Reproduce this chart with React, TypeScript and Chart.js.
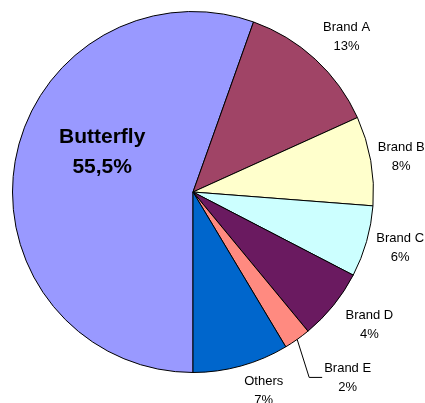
import React, { useEffect, useRef } from "react";
import { Chart, registerables } from "chart.js";

Chart.register(...registerables);

const categories = ["Butterfly", "Brand A", "Brand B", "Brand C", "Brand D", "Brand E", "Others"];
const shares = [55.5, 12.8, 8.0, 6.4, 6.4, 2.4, 8.6];
const shareLabels = ["55,5%", "13%", "8%", "6%", "4%", "2%", "7%"];
const sliceColors = ["#9999FF", "#A04466", "#FFFFCC", "#CCFFFF", "#6A1A60", "#FF8A80", "#0066CC"];

// layout nudges for label blocks (pixels), by slice index
const labelNudges: Record<number, [number, number]> = {
  0: [7, -23],
  1: [7, 4],
  2: [-5, 2],
  3: [-1, -3],
  4: [8, -3],
  6: [13, -10],
};

const labelPlugin = {
  id: "sliceLabels",
  afterDatasetsDraw(chart: any) {
    const ctx = chart.ctx as CanvasRenderingContext2D;
    const meta = chart.getDatasetMeta(0);
    ctx.save();
    ctx.fillStyle = "#000";
    ctx.textAlign = "center";
    ctx.textBaseline = "middle";
    meta.data.forEach((arc: any, i: number) => {
      const { x, y, startAngle, endAngle, outerRadius } = arc.getProps(
        ["x", "y", "startAngle", "endAngle", "outerRadius"],
        true
      );
      const mid = (startAngle + endAngle) / 2;
      const cx = Math.cos(mid);
      const cy = Math.sin(mid);
      const name = categories[i];
      const pct = shareLabels[i];
      if (i === 0) {
        const d = outerRadius * 0.55;
        const n = labelNudges[0];
        const px = x + cx * d + n[0];
        const py = y + cy * d + n[1];
        ctx.font = "bold 21px 'Liberation Sans', Arial, sans-serif";
        ctx.fillText(name, px, py - 15);
        ctx.fillText(pct, px, py + 15);
        return;
      }
      ctx.font = "13px 'Liberation Sans', Arial, sans-serif";
      if (i === 5) {
        const sx = x + cx * outerRadius;
        const sy = y + cy * outerRadius;
        const ex = sx + 12;
        const ey = sy + 38;
        const fx = ex + 13;
        ctx.strokeStyle = "#000";
        ctx.lineWidth = 1;
        ctx.beginPath();
        ctx.moveTo(sx, sy);
        ctx.lineTo(ex, ey);
        ctx.lineTo(fx, ey);
        ctx.stroke();
        const w = ctx.measureText(name).width;
        const tx = fx + 2 + w / 2;
        ctx.fillText(name, tx, ey - 9);
        ctx.fillText(pct, tx, ey + 10);
        return;
      }
      const d = outerRadius + 36;
      const n = labelNudges[i] || [0, 0];
      const px = x + cx * d + n[0];
      const py = y + cy * d + n[1];
      ctx.fillText(name, px, py - 9.5);
      ctx.fillText(pct, px, py + 9.5);
    });
    ctx.restore();
  },
};

export default function App() {
  const canvasRef = useRef<HTMLCanvasElement | null>(null);

  useEffect(() => {
    document.body.style.margin = "0";
    const canvas = canvasRef.current;
    if (!canvas) return;
    const chart = new Chart(canvas, {
      type: "pie",
      data: {
        labels: categories,
        datasets: [
          {
            data: shares,
            backgroundColor: sliceColors,
            borderColor: "#000000",
            borderWidth: 1,
          },
        ],
      },
      options: {
        animation: false,
        responsive: true,
        maintainAspectRatio: false,
        rotation: 180,
        layout: { padding: { left: 12, top: 11, right: 51, bottom: 30 } },
        plugins: {
          legend: { display: false },
          tooltip: { enabled: false },
        },
      },
      plugins: [labelPlugin],
    });
    return () => chart.destroy();
  }, []);

  return (
    <div style={{ position: "absolute", left: 0, top: 0, width: 425, height: 403, background: "#fff", overflow: "hidden" }}>
      <canvas ref={canvasRef} />
    </div>
  );
}
